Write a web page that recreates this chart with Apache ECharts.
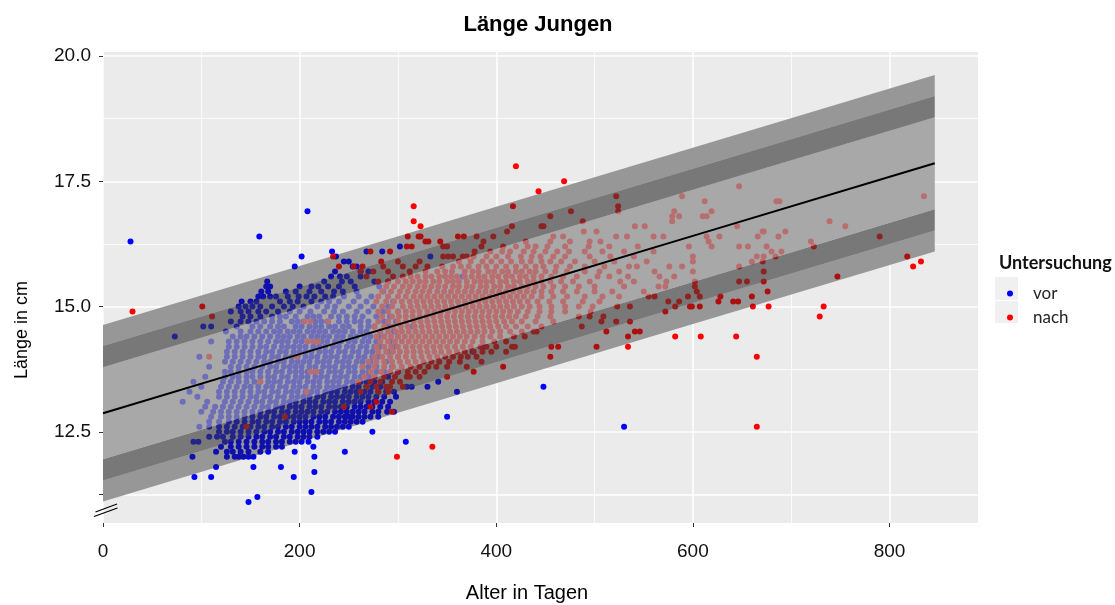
<!DOCTYPE html>
<html><head><meta charset="utf-8">
<script src="https://cdn.jsdelivr.net/npm/echarts@6/dist/echarts.min.js"></script>
<style>html,body{margin:0;padding:0;background:#fff}#c{width:1115px;height:605px}</style>
</head><body><div id="c"></div>
<script>
// ---- axis ticks ----
const xTicks = [0, 200, 400, 600, 800];
const xMinor = [100, 300, 500, 700];
const yTicks = [11.25, 12.5, 15, 17.5, 20];
const yLabels = [12.5, 15, 17.5, 20];
const yMinor = [13.75, 16.25, 18.75];

// ---- reference band ----
const bandTage   = [0, 200, 400, 600, 846];
const mittelLinie = [12.87, 14.05, 15.23, 16.41, 17.86];
const obenAussen  = [14.63, 15.81, 16.99, 18.17, 19.62];
const obenDunkel  = [14.21, 15.39, 16.57, 17.75, 19.20];
const obenMitte   = [13.79, 14.97, 16.15, 17.33, 18.78];
const untenMitte  = [11.95, 13.13, 14.31, 15.49, 16.94];
const untenDunkel = [11.53, 12.71, 13.89, 15.07, 16.52];
const untenAussen = [11.11, 12.29, 13.47, 14.65, 16.10];

// ---- points: [Länge, [Alter in Tagen ...]] ----
const vorZeilen = [
[16.9,[208]],
[16.4,[159]],
[16.3,[28]],
[16.2,[302]],
[16.1,[233,268,284]],
[16.0,[202,237,333]],
[15.9,[245,250]],
[15.8,[195,254,258]],
[15.7,[236,262,270]],
[15.6,[232,241,248,262,366]],
[15.5,[167,225,243,252,276,290]],
[15.4,[166,170,200,212,219,229,240,256,281]],
[15.3,[161,168,186,196,210,222,235,244,258,285]],
[15.2,[158,163,170,176,188,199,207,215,226,234,245,260,273]],
[15.1,[141,150,156,180,190,198,212,222,230,240,255,268,295]],
[15.0,[138,145,152,160,172,184,193,204,218,228,236,250,262,275,290]],
[14.9,[130,140,148,158,166,178,190,200,211,225,235,244,258,270,285,300]],
[14.8,[142,150,160,172,180,186,196,208,214,220,232,240,248,256,264,278,292]],
[14.7,[130,140,148,156,164,172,180,192,198,204,216,222,228,240,248,256,262,270,286,298]],
[14.6,[102,110,136,152,160,170,178,184,196,202,210,216,222,230,236,244,250,262,270,276,290,315]],
[14.5,[125,140,150,158,166,174,180,188,194,200,208,214,220,226,234,240,246,254,262,268,282,296]],
[14.4,[73,132,140,146,154,162,170,178,184,190,198,204,212,218,224,230,238,244,252,258,266,272,280,286,300]],
[14.3,[110,128,136,144,152,160,168,176,182,188,196,202,208,216,222,228,236,242,250,256,264,270,278,292]],
[14.2,[128,136,144,152,160,166,174,182,188,194,200,206,214,220,226,234,240,248,254,262,268,276,282,296,387]],
[14.1,[126,134,142,150,158,166,172,180,186,194,200,206,212,220,226,232,240,246,254,260,268,274,290,376]],
[14.0,[98,126,134,142,150,158,164,172,178,186,192,198,206,212,218,226,232,238,246,252,260,266,274,280,300]],
[13.9,[124,132,140,148,156,164,170,178,184,192,198,204,210,218,224,230,238,244,250,258,264,272,288]],
[13.8,[108,130,138,146,154,162,170,176,184,190,196,202,210,216,224,230,236,244,250,256,264,270,278,294]],
[13.7,[124,130,138,146,152,160,168,176,182,190,196,202,208,216,222,230,236,242,250,256,264,270,278,286,300]],
[13.6,[104,124,132,138,146,152,160,168,174,182,188,196,202,208,216,222,228,236,242,248,256,262,270,276,290]],
[13.5,[92,122,130,138,146,154,160,168,174,180,188,194,200,208,214,220,228,234,240,248,254,262,268,276,284,341]],
[13.4,[100,120,128,136,144,150,158,166,172,180,186,194,200,206,214,220,228,234,240,246,254,260,268,274,282,290,309,314,330,448]],
[13.3,[88,118,126,134,142,150,158,164,172,178,186,192,198,206,212,218,226,232,238,246,252,258,266,272,280,288,296,360]],
[13.2,[96,118,126,134,142,150,156,164,170,178,184,192,198,204,210,218,224,232,238,244,250,258,264,270,278,286,298]],
[13.1,[81,106,124,132,140,148,156,162,170,176,184,190,196,204,210,216,224,230,236,244,250,256,262,270,276,284,292]],
[13.0,[104,114,122,130,138,146,154,162,168,176,182,190,196,202,210,216,222,230,236,242,248,256,262,268,274,282,290]],
[12.9,[100,112,120,128,136,144,152,160,168,174,182,188,196,202,208,214,222,228,236,242,248,254,260,266,274,280,289,296]],
[12.8,[110,120,128,136,144,152,160,166,174,180,188,194,200,206,214,220,226,234,240,246,250,254,260,266,272,280,350]],
[12.7,[108,118,128,136,144,152,158,166,172,180,186,194,200,206,212,220,226,232,240,246,252,258,264]],
[12.6,[98,108,118,126,134,142,150,158,164,172,178,186,192,200,206,212,218,226,232,238,244,250,530]],
[12.5,[118,126,132,140,148,156,164,170,178,184,192,198,204,210,218,224,230,236,274]],
[12.4,[108,116,122,132,140,148,156,162,170,176,184,190,198,204,210,218]],
[12.3,[92,97,124,130,138,146,154,162,168,176,182,190,196,202,209,308]],
[12.2,[120,130,138,146,154,162,168,176,182,214]],
[12.1,[115,126,132,140,148,160,168,195,246]],
[12.0,[91,126,134,138,143,148,153,215]],
[11.8,[115,153,181]],
[11.7,[215]],
[11.6,[93,110,194]],
[11.3,[212]],
[11.2,[157]],
[11.1,[148]]
];

const nachZeilen = [
[17.8,[420]],
[17.5,[469]],
[17.4,[647]],
[17.3,[443]],
[17.2,[522,589,835]],
[17.1,[612,685,688]],
[17.0,[316,417,524]],
[16.9,[476,524,581,619]],
[16.8,[455,579,586,610,614]],
[16.7,[316,488,579,739]],
[16.6,[323,416,446,448,541,551,645,755]],
[16.5,[411,489,502,671,672,694]],
[16.4,[310,321,323,361,367,380,397,458,468,522,533,560,570,614,627,666,687,790]],
[16.3,[328,331,343,387,430,455,475,495,506,616,720]],
[16.2,[309,314,346,350,385,407,420,432,440,452,470,494,515,544,596,619,647,656,675,723]],
[16.1,[272,292,378,394,406,414,428,438,450,462,474,490,508,530,560,680,690]],
[16.0,[234,346,351,356,366,370,377,390,400,412,425,436,445,458,470,495,516,540,600,665,672,684,818]],
[15.9,[283,300,322,362,374,386,395,405,415,426,435,446,455,466,480,500,520,553,600,660,671,832]],
[15.8,[240,255,264,285,305,318,330,345,356,364,372,382,390,400,410,420,430,440,448,461,475,490,510,535,543,576,589,647,824]],
[15.7,[262,275,290,312,328,340,348,355,368,376,382,392,398,406,412,420,426,434,440,450,460,472,490,505,525,561,600,672]],
[15.6,[268,295,305,313,320,328,334,342,348,354,360,368,375,382,388,396,402,410,416,424,430,438,446,456,468,482,503,515,534,566,581,747]],
[15.5,[280,290,300,308,315,322,328,336,342,350,356,362,370,378,384,390,396,404,410,418,424,432,438,446,455,466,478,495,526,540,573,602,647,655,672]],
[15.4,[288,296,305,312,320,327,334,341,348,356,362,370,376,384,390,398,404,412,418,426,432,440,448,458,470,484,500,530,565,572,602]],
[15.3,[284,293,302,310,318,325,332,340,347,354,361,368,375,382,389,396,403,410,417,424,431,438,446,456,468,482,500,518,550,604,676]],
[15.2,[280,290,300,308,316,323,330,337,344,351,358,365,372,379,386,393,400,407,414,421,428,436,446,458,472,490,508,525,555,561,595,607,628,660]],
[15.1,[278,288,296,304,312,319,326,333,340,347,354,361,368,375,382,389,396,403,410,417,424,432,442,454,468,488,505,575,586,626,641,646]],
[15.0,[101,284,294,305,313,320,327,334,341,348,355,362,369,376,383,390,397,404,411,418,426,434,444,456,470,484,498,523,536,582,597,599,607,661,677,733]],
[14.9,[30,280,290,300,308,315,322,330,337,344,351,358,365,372,379,386,393,400,407,414,422,432,444,456,470,496,572]],
[14.8,[111,284,294,301,308,315,322,329,336,343,350,357,364,371,378,385,392,399,406,413,420,430,442,455,484,495,509,729]],
[14.7,[205,211,229,280,290,300,308,316,323,330,337,344,351,358,365,372,379,386,393,400,408,416,426,440,458,507,522,536]],
[14.6,[276,286,295,303,310,317,324,331,338,345,352,359,366,373,380,387,394,402,410,420,432,446,487]],
[14.5,[282,290,298,304,311,318,325,332,339,346,353,360,367,374,381,388,396,404,414,426,438,441,512,541,546]],
[14.4,[278,286,293,300,307,314,321,328,335,342,349,356,363,370,378,386,394,404,418,429,534,582,608,644]],
[14.3,[208,214,219,282,290,297,304,311,318,325,332,339,346,353,360,368,376,386,398,410]],
[14.2,[278,286,293,300,308,315,322,329,336,343,350,358,366,374,384,390,400,416,419,456,463,502,534]],
[14.1,[280,288,295,302,309,316,323,330,337,344,352,360,368,377,386,395,410]],
[14.0,[108,197,276,284,292,300,308,316,324,332,340,348,356,364,371,380,455,665]],
[13.9,[270,278,286,294,302,310,318,326,334,342,352,363,385]],
[13.8,[264,276,286,295,304,313,322,331,339,350,370,407]],
[13.7,[211,217,272,283,292,300,310,318,327,377]],
[13.6,[266,276,286,297,309,312,322,350]],
[13.5,[160,260,272,282,294,302]],
[13.4,[268,278,288,292,305]],
[13.3,[207,262,280,290]],
[13.1,[278]],
[13.0,[245,272]],
[12.9,[294]],
[12.8,[185]],
[12.6,[146,665]],
[12.2,[335]],
[12.0,[299]]
];

// ---- build option ----
function punkte(zeilen){ const out=[]; zeilen.forEach(([l,tage])=>tage.forEach(t=>out.push([t,l]))); return out; }
function linie(a){ return bandTage.map((t,i)=>[t,a[i]]); }

const FONT = 'Liberation Sans, Arial, sans-serif';

// band regions: [upper bound, lower bound, fill]
const unterSchichten = [
  [untenDunkel, untenAussen, '#dcdcdc'],
  [untenMitte, untenDunkel, '#cfcfcf'],
  [obenMitte, untenMitte, '#c8c8c8'],
  [obenDunkel, obenMitte, '#cfcfcf'],
  [obenAussen, obenDunkel, '#dcdcdc']
];
const ueberSchichten = [
  [untenDunkel, untenAussen, 'rgba(40,40,40,0.38)'],
  [untenMitte, untenDunkel, 'rgba(59,59,59,0.59)'],
  [obenMitte, untenMitte, 'rgba(155,155,155,0.71)'],
  [obenDunkel, obenMitte, 'rgba(59,59,59,0.59)'],
  [obenAussen, obenDunkel, 'rgba(40,40,40,0.38)']
];
function bandSeries(schichten, z){
  return {
    type:'custom', z, silent:true, coordinateSystem:'cartesian2d',
    data: schichten.map((s,i)=>[i]),
    encode:{x:-1, y:-1},
    renderItem(params, api){
      const [hi, lo, fill] = schichten[params.dataIndex];
      const pts = [];
      bandTage.forEach((t,k)=>pts.push(api.coord([t, hi[k]])));
      for (let k=bandTage.length-1;k>=0;k--) pts.push(api.coord([bandTage[k], lo[k]]));
      return {type:'polygon', shape:{points:pts}, style:{fill, stroke:null}};
    }
  };
}

const chart = echarts.init(document.getElementById('c'), null, {renderer:'canvas'});
chart.setOption({
  animation:false,
  backgroundColor:'#ffffff',
  grid:{left:103, top:52, width:875, height:471, show:true, backgroundColor:'#ebebeb', borderWidth:0},
  xAxis:[
    {type:'value', min:0, max:890, position:'bottom',
     axisLine:{show:false},
     axisTick:{show:true, length:4, lineStyle:{color:'#333', width:1}, customValues:xTicks},
     axisLabel:{customValues:xTicks, margin:19, color:'#111', fontSize:19, fontFamily:FONT},
     splitLine:{show:true, lineStyle:{color:'#ffffff', width:1.5}}},
    {type:'value', min:0, max:890, position:'bottom',
     axisLine:{show:false}, axisLabel:{show:false},
     axisTick:{show:false, customValues:xMinor},
     splitLine:{show:true, lineStyle:{color:'#ffffff', width:0.8}}}
  ],
  yAxis:[
    {type:'value', min:10.68, max:20.08, position:'left',
     axisLine:{show:false},
     axisTick:{show:true, length:4, lineStyle:{color:'#333', width:1}, customValues:yTicks},
     axisLabel:{customValues:yLabels, margin:12, color:'#111', fontSize:19, fontFamily:FONT,
                formatter:v=>Number(v).toFixed(1)},
     splitLine:{show:true, lineStyle:{color:'#ffffff', width:1.5}}},
    {type:'value', min:10.68, max:20.08, position:'left',
     axisLine:{show:false}, axisLabel:{show:false},
     axisTick:{show:false, customValues:yMinor},
     splitLine:{show:true, lineStyle:{color:'#ffffff', width:0.8}}}
  ],
  legend:{data:['vor','nach'], orient:'vertical', left:1002, top:280, icon:'circle',
    itemWidth:6, itemHeight:6, itemGap:7, selectedMode:false,
    textStyle:{fontFamily:'Lato, Open Sans, sans-serif', fontSize:17, color:'#222', lineHeight:16, padding:[0,0,0,15]}},
  graphic:[
    {type:'rect', z:0, shape:{x:995,y:277,width:23,height:23}, style:{fill:'#f0f0f0'}},
    {type:'rect', z:0, shape:{x:995,y:301,width:23,height:22}, style:{fill:'#f0f0f0'}},
    {type:'text', z:10, x:999, y:263, style:{text:'Untersuchung', fill:'#111', font:'bold 18px Lato, Open Sans, sans-serif', verticalAlign:'middle'}},
    {type:'text', z:10, x:538, y:25, style:{text:'Länge Jungen', fill:'#000', font:'bold 22px '+FONT, align:'center', verticalAlign:'middle'}},
    {type:'text', z:10, x:527, y:593, style:{text:'Alter in Tagen', fill:'#000', font:'20px '+FONT, align:'center', verticalAlign:'middle'}},
    {type:'text', z:10, x:22, y:330, rotation:Math.PI/2, style:{text:'Länge in cm', fill:'#000', font:'18px '+FONT, align:'center', verticalAlign:'middle'}},
    {type:'line', z:20, shape:{x1:95.5,y1:512,x2:117,y2:504}, style:{stroke:'#000', lineWidth:1.3}},
    {type:'line', z:20, shape:{x1:94,y1:516.5,x2:117.5,y2:508}, style:{stroke:'#000', lineWidth:1.3}}
  ],
  series:[
    bandSeries(unterSchichten, 1),
    {name:'vor', type:'scatter', z:2, silent:true, symbol:'circle', symbolSize:6,
     itemStyle:{color:'#0000ff', opacity:1}, data:punkte(vorZeilen)},
    {name:'nach', type:'scatter', z:2, silent:true, symbol:'circle', symbolSize:6,
     itemStyle:{color:'#ff0000', opacity:1}, data:punkte(nachZeilen)},
    bandSeries(ueberSchichten, 3),
    {type:'line', z:4, silent:true, symbol:'none', lineStyle:{color:'#000', width:2},
     data:linie(mittelLinie)}
  ]
});
</script></body></html>
